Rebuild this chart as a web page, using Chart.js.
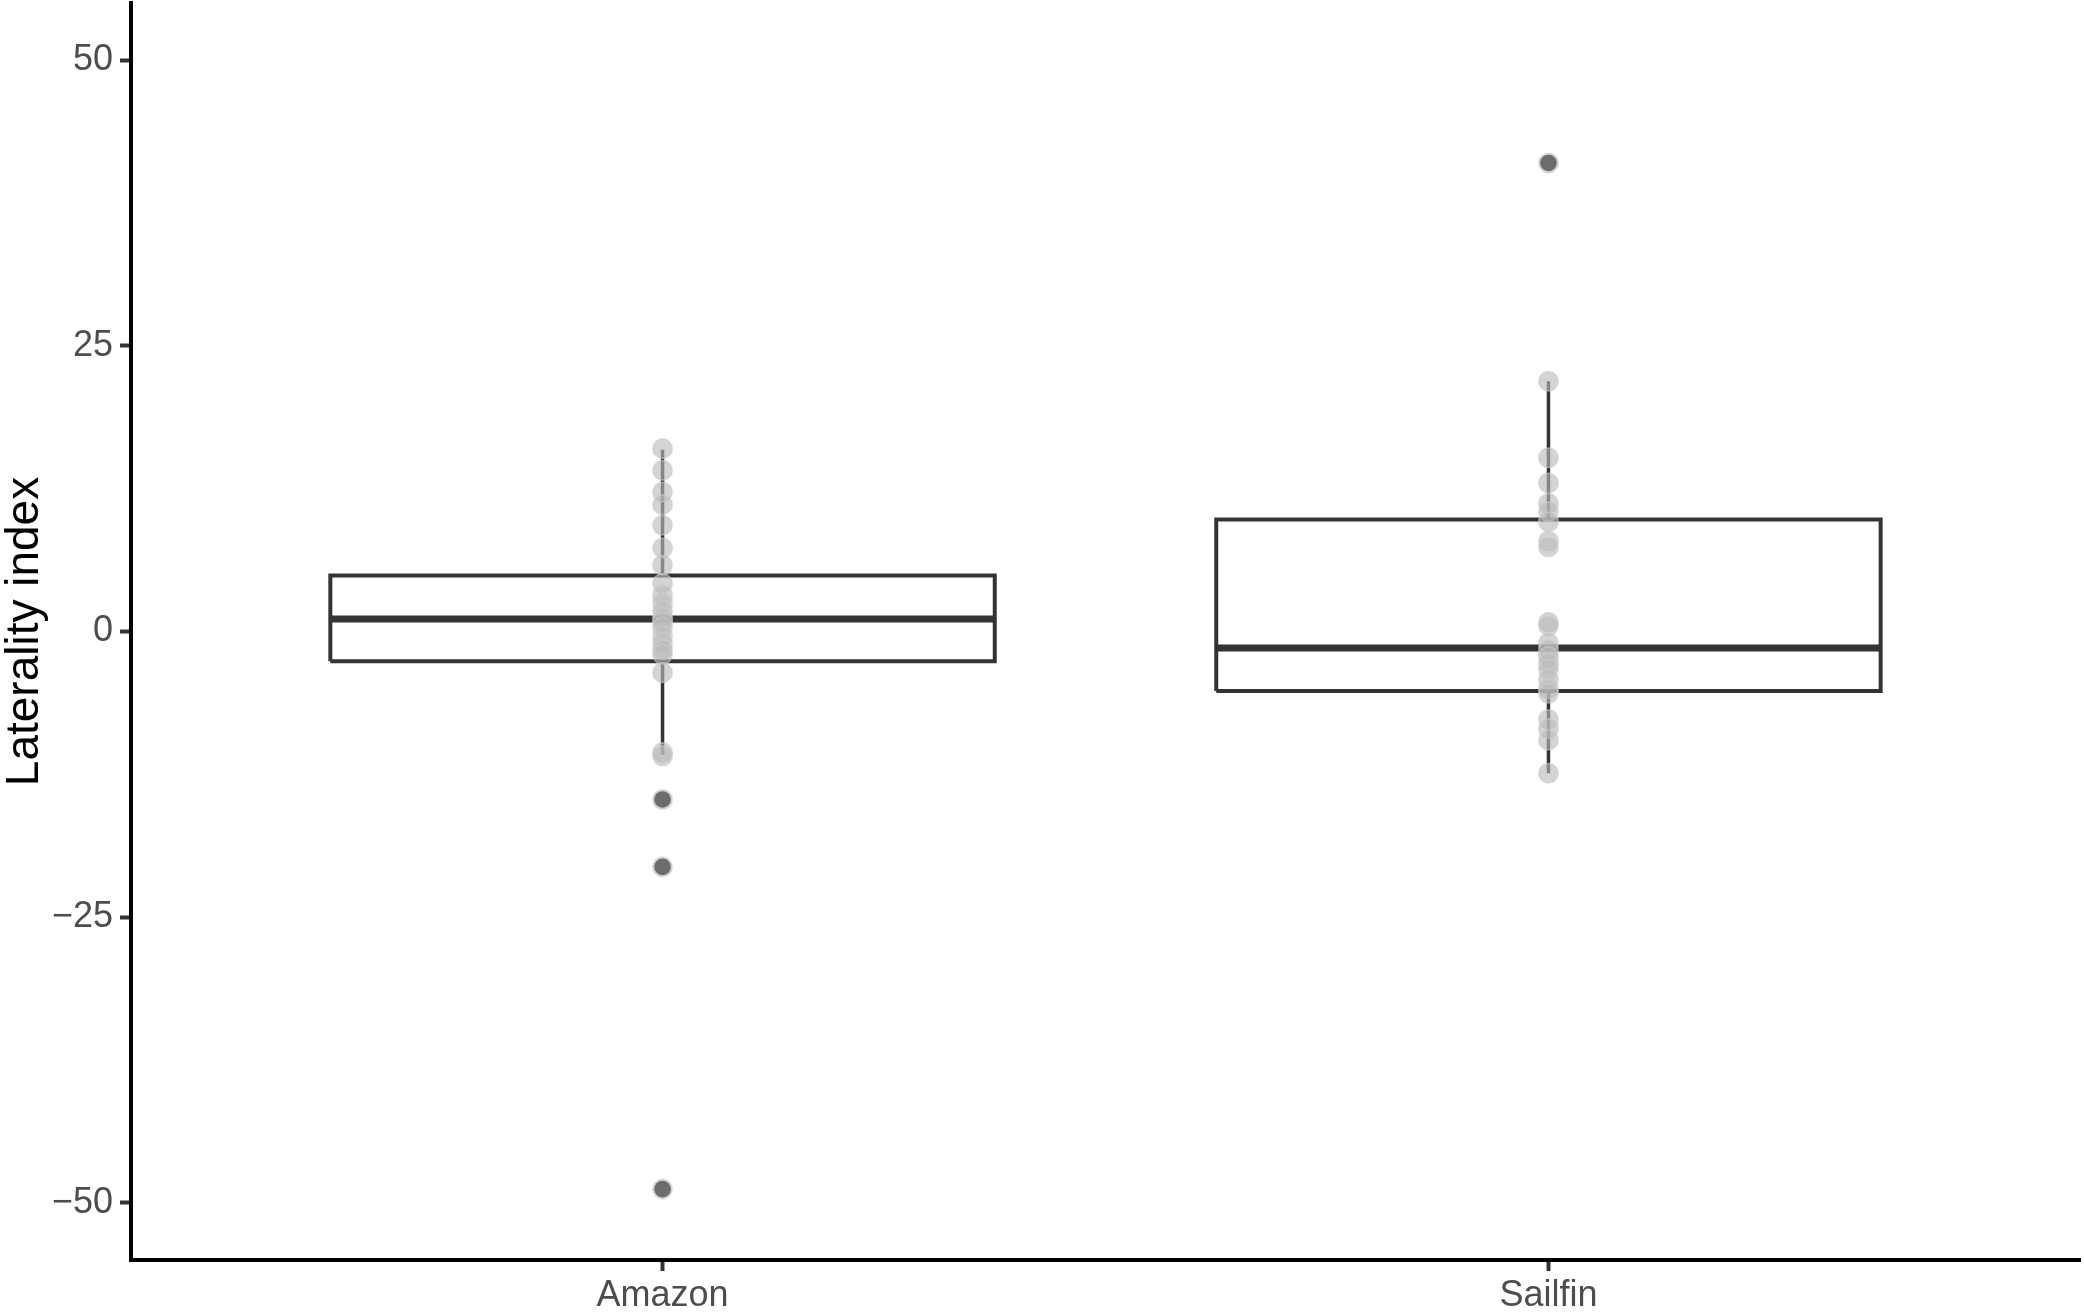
<!DOCTYPE html>
<html>
<head>
<meta charset="utf-8">
<script src="https://cdn.jsdelivr.net/npm/chart.js@4.4.1/dist/chart.umd.min.js"></script>
<style>
  html, body { margin: 0; padding: 0; background: #ffffff; }
  #wrap { width: 2084px; height: 1312px; position: relative; }
</style>
</head>
<body>
<div id="wrap"><canvas id="c"></canvas></div>
<script>
// ---- data ----
const categories = ['Amazon', 'Sailfin'];
const amazonValues = [16.0, 14.1, 12.2, 11.1, 9.3, 7.3, 5.8, 4.2, 3.2, 2.5, 1.8, 1.2, 0.9, 0.4, -0.4, -1.0, -1.6, -2.0, -3.6, -10.6, -10.9, -14.7, -20.6, -48.8];
const sailfinValues = [41.0, 21.9, 15.2, 13.0, 11.2, 10.5, 9.6, 7.9, 7.4, 0.8, 0.5, -1.0, -1.6, -2.2, -2.8, -3.3, -4.2, -5.0, -5.4, -7.7, -8.5, -9.5, -12.4];
const q1 = [-2.6, -5.2];
const median = [1.1, -1.45];
const q3 = [4.9, 9.8];
const whiskerLow = [-10.8, -12.4];
const whiskerHigh = [15.9, 21.9];
const amazonOutliers = [-14.7, -20.6, -48.8];
const sailfinOutliers = [41.0];
const yTicks = [-50, -25, 0, 25, 50];

const groupValues = [amazonValues, sailfinValues];
const groupOutliers = [amazonOutliers, sailfinOutliers];

// ---- style ----
const FONT = '"Liberation Sans", Arial, sans-serif';
const BOX_HALF = 0.375;
const LINE = '#333333';

const datasets = [];
categories.forEach((cat, i) => {
  const x = i + 1;
  // whiskers (gap inside the box)
  datasets.push({
    type: 'line', showLine: true, spanGaps: false, order: 10,
    data: [{x: x, y: whiskerLow[i]}, {x: x, y: q1[i]}, {x: x, y: null}, {x: x, y: q3[i]}, {x: x, y: whiskerHigh[i]}],
    borderColor: LINE, borderWidth: 3.5, pointRadius: 0, fill: false
  });
  // box outline
  datasets.push({
    type: 'line', showLine: true, order: 9,
    data: [
      {x: x - BOX_HALF, y: q1[i]}, {x: x + BOX_HALF, y: q1[i]},
      {x: x + BOX_HALF, y: q3[i]}, {x: x - BOX_HALF, y: q3[i]},
      {x: x - BOX_HALF, y: q1[i]}
    ],
    borderColor: LINE, borderWidth: 4, pointRadius: 0, fill: false,
    borderJoinStyle: 'miter'
  });
  // median
  datasets.push({
    type: 'line', showLine: true, order: 8,
    data: [{x: x - BOX_HALF, y: median[i]}, {x: x + BOX_HALF, y: median[i]}],
    borderColor: LINE, borderWidth: 7, pointRadius: 0, fill: false,
    borderCapStyle: 'butt'
  });
  // all observations (light, translucent)
  datasets.push({
    type: 'scatter', order: 7,
    data: groupValues[i].map(v => ({x: x, y: v})),
    backgroundColor: 'rgba(186,186,186,0.62)', borderColor: 'rgba(205,205,205,0.6)', borderWidth: 1.5,
    pointRadius: 9.8, pointHoverRadius: 9.8
  });
  // outliers (dark, on top)
  datasets.push({
    type: 'scatter', order: 5,
    data: groupOutliers[i].map(v => ({x: x, y: v})),
    backgroundColor: '#6c6c6c', borderColor: '#6c6c6c', borderWidth: 0,
    pointRadius: 8.3, pointHoverRadius: 8.3
  });
});

new Chart(document.getElementById('c'), {
  type: 'scatter',
  data: { datasets },
  options: {
    responsive: true,
    maintainAspectRatio: false,
    devicePixelRatio: 1,
    animation: false,
    events: [],
    layout: { autoPadding: false, padding: { top: 3, right: 4, left: 0, bottom: 0 } },
    plugins: { legend: { display: false }, tooltip: { enabled: false }, title: { display: false } },
    scales: {
      x: {
        type: 'linear', min: 0.4, max: 2.6,
        afterBuildTicks: s => { s.ticks = categories.map((c, i) => ({ value: i + 1 })); },
        afterFit: s => { s.height = 52; s.paddingLeft = 0; s.paddingRight = 0; },
        ticks: {
          autoSkip: false, maxRotation: 0, padding: 3,
          color: '#4d4d4d', font: { family: FONT, size: 36 },
          callback: (v, idx) => categories[idx]
        },
        grid: { drawOnChartArea: false, drawTicks: true, tickLength: 11, tickColor: LINE, tickWidth: 4 },
        border: { display: true, color: '#000000', width: 4 }
      },
      y: {
        type: 'linear', min: -55, max: 55,
        afterBuildTicks: s => { s.ticks = yTicks.map(v => ({ value: v })); },
        afterFit: s => { s.width = 131; s.paddingTop = 0; s.paddingBottom = 0; },
        ticks: {
          color: '#4d4d4d', font: { family: FONT, size: 36 }, padding: 7,
          callback: v => (v < 0 ? '\u2212' + Math.abs(v) : String(v))
        },
        grid: { drawOnChartArea: false, drawTicks: true, tickLength: 11, tickColor: LINE, tickWidth: 4 },
        border: { display: true, color: '#000000', width: 4 },
        title: { display: true, text: 'Laterality index', color: '#000000', font: { family: FONT, size: 46, lineHeight: 1.1 }, padding: 0 }
      }
    }
  }
});
</script>
</body>
</html>
